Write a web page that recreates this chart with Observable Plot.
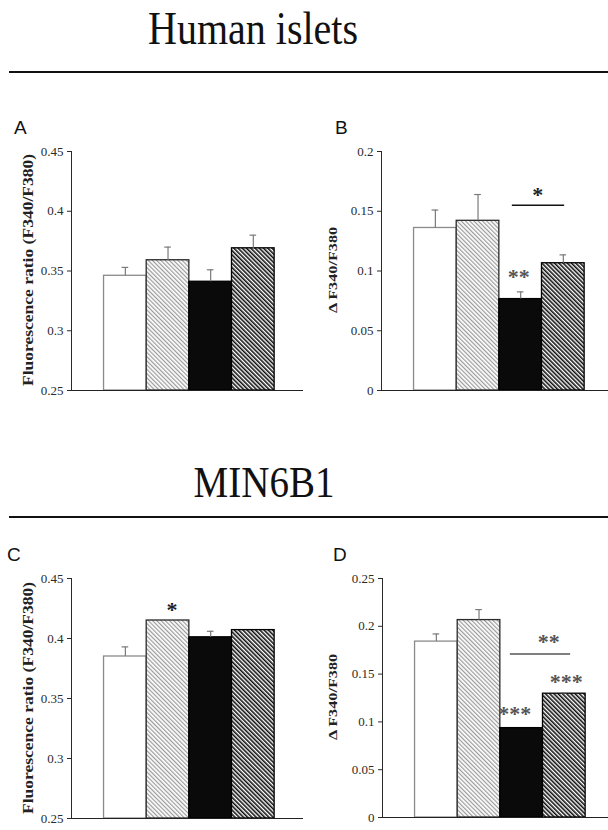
<!DOCTYPE html>
<html><head><meta charset="utf-8">
<script src="https://cdn.jsdelivr.net/npm/d3@7"></script>
<script src="https://cdn.jsdelivr.net/npm/@observablehq/plot@0.6"></script>
<style>
html,body{margin:0;padding:0;background:#fff;}
body{width:608px;height:830px;overflow:hidden;position:relative;}
.abs{position:absolute;white-space:nowrap;}
.title{font-family:"Liberation Serif","Times New Roman",serif;color:#111;line-height:1;transform-origin:50% 0;}
.rule{position:absolute;left:9px;width:610px;height:2px;background:#111;}
.panel{font-family:"Liberation Sans",Arial,sans-serif;font-size:19px;line-height:19px;color:#111;}
.ylab{font-family:"Liberation Serif","Times New Roman",serif;font-weight:bold;color:#222;line-height:1;}
.chart{position:absolute;width:308px;}
.chart svg{max-width:none !important;}
</style></head><body>
<svg width="0" height="0" style="position:absolute">
<defs>
<pattern id="hatchLight" patternUnits="userSpaceOnUse" width="3" height="3" patternTransform="rotate(-45)">
<rect width="3" height="3" fill="#ffffff"/><rect x="0" y="0" width="1.2" height="3" fill="#9a9a9a"/>
</pattern>
<pattern id="hatchDark" patternUnits="userSpaceOnUse" width="3" height="3" patternTransform="rotate(-45)">
<rect width="3" height="3" fill="#ffffff"/><rect x="0" y="0" width="1.6" height="3" fill="#111111"/>
</pattern>
</defs></svg>

<div class="abs title" style="font-size:40px;left:253px;top:6px;transform:translateX(-50%) scaleY(1.15);">Human islets</div>
<div class="rule" style="top:71px"></div>
<div class="abs title" style="font-size:39px;left:264px;top:459px;transform:translateX(-50%) scaleY(1.15);">MIN6B1</div>
<div class="rule" style="top:516px"></div>

<div class="abs panel" style="left:14px;top:118px">A</div>
<div class="abs panel" style="left:335px;top:118px">B</div>
<div class="abs panel" style="left:7px;top:545px">C</div>
<div class="abs panel" style="left:333px;top:545px">D</div>

<div id="cA" class="chart" style="left:0px;top:130px"></div>
<div id="cB" class="chart" style="left:310px;top:130px"></div>
<div id="cC" class="chart" style="left:0px;top:558px"></div>
<div id="cD" class="chart" style="left:311px;top:558px"></div>

<div class="abs ylab" style="font-size:14.6px;left:28px;top:270px;transform:translate(-50%,-50%) scaleY(1.2) rotate(-90deg);">Fluorescence ratio (F340/F380)</div>
<div class="abs ylab" style="font-size:13.5px;left:333px;top:270px;transform:translate(-50%,-50%) scaleY(1.2) rotate(-90deg);">Δ F340/F380</div>
<div class="abs ylab" style="font-size:14.6px;left:28px;top:698px;transform:translate(-50%,-50%) scaleY(1.2) rotate(-90deg);">Fluorescence ratio (F340/F380)</div>
<div class="abs ylab" style="font-size:13.5px;left:333px;top:697px;transform:translate(-50%,-50%) scaleY(1.2) rotate(-90deg);">Δ F340/F380</div>

<script>
// ---- data ----
const conditions = ["Condition 1", "Condition 2", "Condition 3", "Condition 4"];

const humanBasal    = [0.346, 0.359, 0.341, 0.369];
const humanBasalErr = [0.007, 0.011, 0.010, 0.011];
const humanDelta    = [0.136, 0.142, 0.0765, 0.1065];
const humanDeltaErr = [0.015, 0.022, 0.006, 0.007];

const minBasal      = [0.385, 0.415, 0.401, 0.407];
const minBasalErr   = [0.008, 0, 0.005, 0];
const minDelta      = [0.184, 0.2065, 0.0935, 0.1295];
const minDeltaErr   = [0.008, 0.011, 0, 0.001];

const basalTicks       = [0.25, 0.3, 0.35, 0.4, 0.45];
const basalTickLabels  = ["0.25", "0.3", "0.35", "0.4", "0.45"];
const humanDeltaTicks  = [0, 0.05, 0.1, 0.15, 0.2];
const humanDeltaLabels = ["0", "0.05", "0.1", "0.15", "0.2"];
const minDeltaTicks    = [0, 0.05, 0.1, 0.15, 0.2, 0.25];
const minDeltaLabels   = ["0", "0.05", "0.1", "0.15", "0.2", "0.25"];

// significance annotations
const sigHumanDelta = [{condition: "Condition 3", label: "**"}];
const sigMinBasal   = [{condition: "Condition 2", label: "*"}];
const sigMinDelta3  = [{condition: "Condition 3", label: "***"}];
const sigMinDelta4  = [{condition: "Condition 4", label: "***"}];
const bracketHumanDelta = [{from: "Condition 3", to: "Condition 4", y: 0.155, label: "*"}];
const bracketMinDelta   = [{from: "Condition 3", to: "Condition 4", y: 0.171, label: "**"}];

// ---- styles ----
const barFills   = ["#ffffff", "url(#hatchLight)", "#0a0a0a", "url(#hatchDark)"];
const barStrokes = ["#8a8a8a", "#2a2a2a", "#000000", "#000000"];

function rowsOf(values, errs) {
  return conditions.map((c, i) => ({
    condition: c, value: values[i], err: errs[i], top: values[i] + errs[i],
    fill: barFills[i], stroke: barStrokes[i]
  }));
}

function topOf(rows, cond) { return rows.find(r => r.condition === cond).top; }

function panel(cfg) {
  const rows = rowsOf(cfg.values, cfg.errs);
  const lab = new Map(cfg.ticks.map((t, i) => [t, cfg.tickLabels[i]]));
  const ymin = cfg.domain[0];
  const errRows = rows.filter(d => d.err > 0);
  const marks = [
    Plot.barY(rows, {x: "condition", y1: () => ymin, y2: "value", fill: "fill", stroke: "stroke", strokeWidth: 1.3}),
    Plot.ruleX(errRows, {x: "condition", y1: "value", y2: "top", stroke: "#7a7a7a", strokeWidth: 1.2}),
    Plot.tickY(errRows, {x: "condition", y: "top", stroke: "#7a7a7a", strokeWidth: 1.2, insetLeft: 18, insetRight: 18}),
    Plot.ruleY([ymin], {stroke: "#222", strokeWidth: 1.2}),
    ...(cfg.extra ? cfg.extra(rows) : [])
  ];
  const svg = Plot.plot({
    width: cfg.width, height: cfg.height,
    marginLeft: 71, marginRight: 5, marginTop: cfg.mt, marginBottom: cfg.mb,
    x: {domain: conditions, axis: null, paddingInner: 0, paddingOuter: 0.72, align: 0.53, round: false},
    y: {domain: cfg.domain, ticks: cfg.ticks, tickFormat: d => lab.get(d), tickSize: 4, tickPadding: 4, line: true, label: null},
    color: {type: "identity"},
    style: {fontFamily: "Liberation Serif, Times New Roman, serif", fontSize: "13px", color: "#2a2a2a", background: "transparent", overflow: "visible", maxWidth: "none"},
    marks
  });
  return svg;
}

const starStyle = {fontFamily: "Liberation Serif, Times New Roman, serif", fontSize: 22, fontWeight: "bold"};

document.getElementById("cA").append(panel({
  values: humanBasal, errs: humanBasalErr, domain: [0.25, 0.45], ticks: basalTicks, tickLabels: basalTickLabels,
  width: 308, height: 270, mt: 21, mb: 10
}));

document.getElementById("cB").append(panel({
  values: humanDelta, errs: humanDeltaErr, domain: [0, 0.2], ticks: humanDeltaTicks, tickLabels: humanDeltaLabels,
  width: 308, height: 270, mt: 21, mb: 10,
  extra: rows => [
    Plot.text(sigHumanDelta, {x: "condition", y: d => topOf(rows, d.condition), text: "label", dx: -2, dy: -15.4, fill: "#555", ...starStyle}),
    Plot.ruleY(bracketHumanDelta, {x1: "from", x2: "to", y: "y", insetLeft: 13, insetRight: 20, stroke: "#111", strokeWidth: 1.6}),
    Plot.text(bracketHumanDelta, {x: "from", y: "y", text: "label", dx: 17, dy: -10, fill: "#222", ...starStyle})
  ]
}));

document.getElementById("cC").append(panel({
  values: minBasal, errs: minBasalErr, domain: [0.25, 0.45], ticks: basalTicks, tickLabels: basalTickLabels,
  width: 308, height: 270, mt: 20, mb: 10,
  extra: rows => [
    Plot.text(sigMinBasal, {x: "condition", y: d => topOf(rows, d.condition), text: "label", dx: 4, dy: -10.7, fill: "#222", ...starStyle})
  ]
}));

document.getElementById("cD").append(panel({
  values: minDelta, errs: minDeltaErr, domain: [0, 0.25], ticks: minDeltaTicks, tickLabels: minDeltaLabels,
  width: 308, height: 269, mt: 20, mb: 10,
  extra: rows => [
    Plot.text(sigMinDelta3, {x: "condition", y: d => topOf(rows, d.condition), text: "label", dx: -7, dy: -14, fill: "#555", ...starStyle}),
    Plot.text(sigMinDelta4, {x: "condition", y: d => topOf(rows, d.condition), text: "label", dx: 2, dy: -11, fill: "#555", ...starStyle}),
    Plot.ruleY(bracketMinDelta, {x1: "from", x2: "to", y: "y", insetLeft: 10, insetRight: 15, stroke: "#555", strokeWidth: 1.6}),
    Plot.text(bracketMinDelta, {x: "from", y: "y", text: "label", dx: 27, dy: -11.7, fill: "#555", ...starStyle})
  ]
}));
</script>
</body></html>
